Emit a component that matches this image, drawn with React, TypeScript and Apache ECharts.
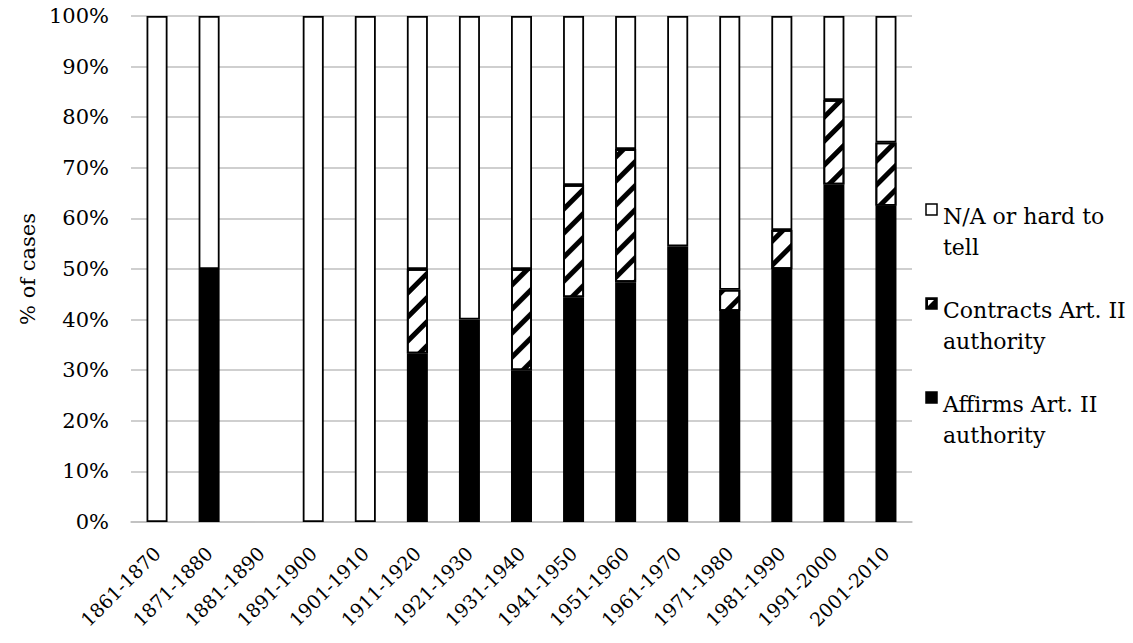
import React, { useEffect, useRef } from "react";
import * as echarts from "echarts";

const categories = [
  "1861-1870", "1871-1880", "1881-1890", "1891-1900", "1901-1910",
  "1911-1920", "1921-1930", "1931-1940", "1941-1950", "1951-1960",
  "1961-1970", "1971-1980", "1981-1990", "1991-2000", "2001-2010",
];
const affirms = [0, 50, 0, 0, 0, 33.3, 40, 30, 44.4, 47.4, 54.5, 41.7, 50, 66.7, 62.5];
const contracts = [0, 0, 0, 0, 0, 16.7, 0, 20, 22.2, 26.3, 0, 4.2, 7.7, 16.7, 12.5];
const naHard = [100, 50, 0, 100, 100, 50, 60, 50, 33.4, 26.3, 45.5, 54.1, 42.3, 16.6, 25];
const yTicks = [0, 10, 20, 30, 40, 50, 60, 70, 80, 90, 100];

const seriesNames = ["Affirms Art. II\nauthority", "Contracts Art. II\nauthority", "N/A or hard to\ntell"];
// legend order top to bottom
const legendOrder = [2, 1, 0];

const FONT = "DejaVu Serif";

const toData = (arr: number[]) => arr.map((v) => (v === 0 ? "-" : v));

export default function App() {
  const ref = useRef<HTMLDivElement>(null);
  useEffect(() => {
    document.body.style.margin = "0";
    const chart = echarts.init(ref.current!, undefined, { renderer: "svg" });
    const barBase = {
      type: "bar",
      stack: "total",
      barWidth: 21,
      emphasis: { disabled: true },
    };

    const legendTop = 204;
    const legendStep = 94;
    const iconSize = 11;
    const legendGraphics: any[] = [];
    legendOrder.forEach((si, i) => {
      const top = legendTop + i * legendStep;
      if (si === 0) {
        legendGraphics.push({
          type: "rect",
          shape: { x: 926, y: top, width: iconSize, height: iconSize },
          style: { fill: "#000", stroke: "#000", lineWidth: 1.5 },
        });
      } else if (si === 1) {
        legendGraphics.push({
          type: "rect",
          shape: { x: 926, y: top, width: iconSize, height: iconSize },
          style: { fill: "#000", stroke: "#000", lineWidth: 1.5 },
        });
        legendGraphics.push({
          type: "polygon",
          shape: { points: [[928, top + 2], [934, top + 2], [928, top + 8]] },
          style: { fill: "#fff" },
        });
      } else {
        legendGraphics.push({
          type: "rect",
          shape: { x: 926, y: top, width: iconSize, height: iconSize },
          style: { fill: "#fff", stroke: "#000", lineWidth: 1.5 },
        });
      }
      legendGraphics.push({
        type: "text",
        x: 943,
        y: top - 3,
        style: {
          text: seriesNames[si],
          font: `22px "${FONT}"`,
          fill: "#000",
          lineHeight: 31,
          verticalAlign: "top",
          align: "left",
        },
      });
    });

    chart.setOption({
      animation: false,
      backgroundColor: "#ffffff",
      textStyle: { fontFamily: FONT, color: "#000" },
      grid: { left: 131, right: 221, top: 16, bottom: 121 },
      xAxis: {
        type: "category",
        data: categories,
        axisTick: { show: false },
        axisLine: { lineStyle: { color: "#bfbfbf", width: 1.5 } },
        axisLabel: {
          interval: 0,
          rotate: 45,
          fontSize: 19,
          fontFamily: FONT,
          color: "#000",
          margin: 28,
        },
      },
      yAxis: {
        type: "value",
        min: yTicks[0],
        max: yTicks[yTicks.length - 1],
        interval: 10,
        name: "% of cases",
        nameLocation: "middle",
        nameGap: 92,
        nameTextStyle: { fontSize: 21, fontFamily: FONT, color: "#000" },
        axisLine: { show: false },
        axisTick: { show: false },
        splitLine: { lineStyle: { color: "#bfbfbf", width: 1.5 } },
        axisLabel: {
          formatter: "{value}%",
          fontSize: 21,
          fontFamily: FONT,
          color: "#000",
          margin: 22,
        },
      },
      graphic: legendGraphics,
      series: [
        {
          ...barBase,
          name: seriesNames[0],
          data: toData(affirms),
          itemStyle: { color: "#000", borderColor: "#000", borderWidth: 1.8 },
        },
        {
          ...barBase,
          name: seriesNames[1],
          data: toData(contracts),
          itemStyle: {
            color: "#fff",
            borderColor: "#000",
            borderWidth: 1.8,
            decal: {
              symbol: "rect",
              symbolSize: 1,
              dashArrayX: [1, 0],
              dashArrayY: [5, 12],
              rotation: -Math.PI / 4,
              color: "#000",
            },
          },
        },
        {
          ...barBase,
          name: seriesNames[2],
          data: toData(naHard),
          itemStyle: { color: "#fff", borderColor: "#000", borderWidth: 1.8 },
        },
      ],
    });
    return () => chart.dispose();
  }, []);
  return <div ref={ref} style={{ width: 1133, height: 643 }} />;
}
